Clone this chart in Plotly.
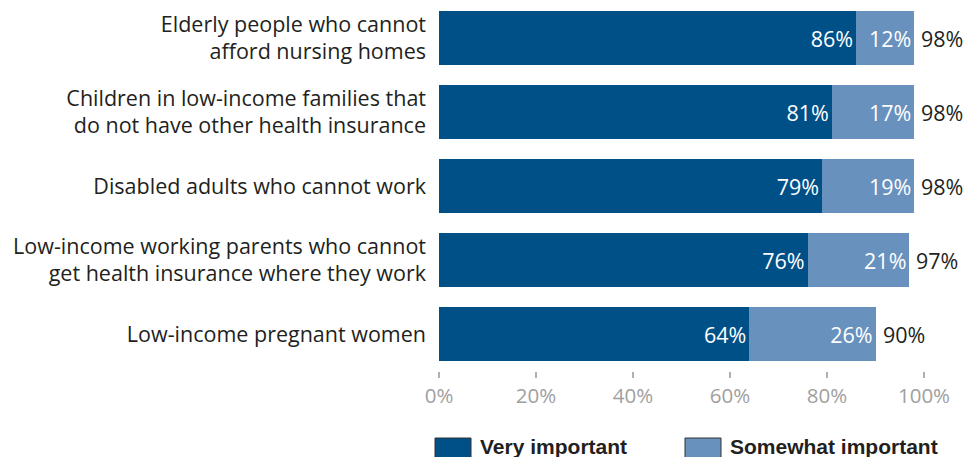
import plotly.graph_objects as go

categories = [
    "Elderly people who cannot<br>afford nursing homes",
    "Children in low-income families that<br>do not have other health insurance",
    "Disabled adults who cannot work",
    "Low-income working parents who cannot<br>get health insurance where they work",
    "Low-income pregnant women",
]
very_important = [86, 81, 79, 76, 64]
somewhat_important = [12, 17, 19, 21, 26]
totals = [98, 98, 98, 97, 90]
series_names = ["Very important", "Somewhat important"]
colors = ["#005088", "#6891bd"]
tick_vals = [0, 20, 40, 60, 80, 100]
tick_text = ["0%", "20%", "40%", "60%", "80%", "100%"]

FONT = "Open Sans"
FS = 21.5

fig = go.Figure()
for name, vals, col in zip(series_names, [very_important, somewhat_important], colors):
    fig.add_trace(go.Bar(
        y=categories, x=vals, name=name, orientation="h",
        marker=dict(color=col, line=dict(width=0)),
        text=[f"{v}%" for v in vals], textposition="inside",
        insidetextanchor="end", constraintext="none",
        textfont=dict(color="white", size=FS, family=FONT),
        showlegend=False, hoverinfo="skip",
    ))

for cat, t in zip(categories, totals):
    fig.add_annotation(x=t, y=cat, xref="x", yref="y", text=f"{t}%",
                       showarrow=False, xanchor="left", yanchor="middle", xshift=5,
                       font=dict(color="#231f20", size=FS, family=FONT))

fig.update_layout(
    barmode="stack", bargap=0.27,
    width=967, height=457,
    margin=dict(l=439, r=43, t=1, b=86),
    plot_bgcolor="white", paper_bgcolor="white",
    font=dict(family=FONT, color="#231f20"),
)
fig.update_yaxes(autorange="reversed", showgrid=False, zeroline=False, showline=False,
                 ticks="", ticklabelstandoff=12,
                 tickfont=dict(size=FS, family=FONT, color="#231f20"))
fig.update_xaxes(range=[0, 100], tickvals=tick_vals, ticktext=tick_text,
                 showgrid=False, zeroline=False, showline=False,
                 ticks="outside", ticklen=6, tickwidth=2, tickcolor="#b0b0b0",
                 tickfont=dict(size=20.5, family=FONT, color="#a0a0a0"))

# legend drawn manually
def px_to_paper_x(px):
    return (px - 439) / 485

def px_to_paper_y(py):
    return (371 - py) / 370

legend_items = [(435, 471, 478), (685, 721, 728)]
for (x0, x1, tx), name, col in zip(legend_items, series_names, colors):
    fig.add_shape(type="rect", xref="paper", yref="paper",
                  x0=px_to_paper_x(x0), x1=px_to_paper_x(x1),
                  y0=px_to_paper_y(460), y1=px_to_paper_y(438),
                  fillcolor=col, line=dict(color="#333333", width=1))
    fig.add_annotation(xref="paper", yref="paper", x=px_to_paper_x(tx), y=px_to_paper_y(446),
                       text=f"<b>{name}</b>", showarrow=False, xanchor="left", yanchor="middle",
                       font=dict(family="Liberation Sans", size=21, color="#231f20"))

fig.write_html("out.html")
